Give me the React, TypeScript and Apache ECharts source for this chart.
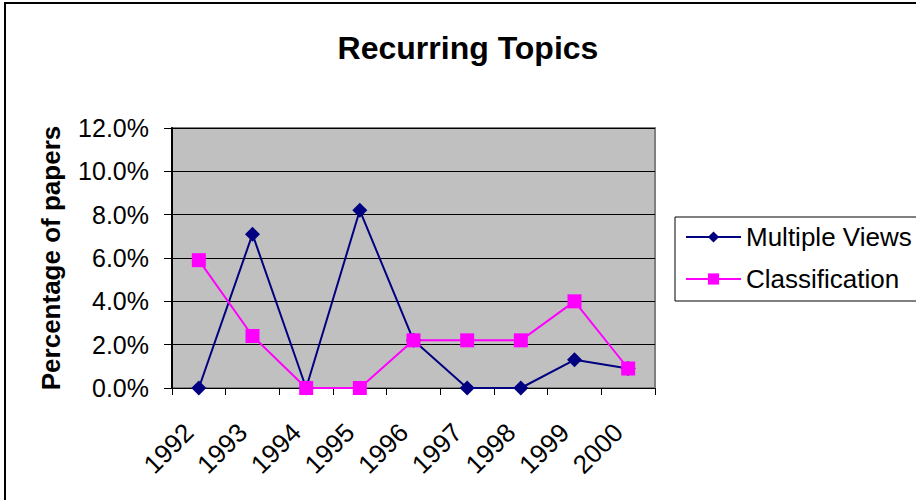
import React, { useEffect, useRef } from "react";
import * as echarts from "echarts";

const years = ["1992", "1993", "1994", "1995", "1996", "1997", "1998", "1999", "2000"];
const multipleViews = [0, 7.1, 0, 8.2, 2.2, 0, 0, 1.3, 0.9];
const classification = [5.9, 2.4, 0, 0, 2.2, 2.2, 2.2, 4.0, 0.9];
const seriesNames = ["Multiple Views", "Classification"];
const titleText = "Recurring Topics";
const yAxisTitle = "Percentage of papers";

const FONT = "'Liberation Sans', Arial, sans-serif";

export default function App() {
  const ref = useRef<HTMLDivElement>(null);
  useEffect(() => {
    document.body.style.margin = "0";
    const chart = echarts.init(ref.current!, undefined, { renderer: "svg" });
    chart.setOption({
      animation: false,
      backgroundColor: "#ffffff",
      title: {
        text: titleText,
        left: 463,
        textAlign: "center",
        top: 27,
        textStyle: { fontFamily: FONT, fontSize: 32, fontWeight: "bold", color: "#000" },
      },
      graphic: [
        {
          type: "rect",
          shape: { x: 5, y: 3, width: 1000, height: 600 },
          style: { fill: "none", stroke: "#000", lineWidth: 2 },
          silent: true,
          z: 100,
        },
      ],
      legend: {
        orient: "vertical",
        left: 675,
        top: 217,
        padding: [6, 60, 8, 10],
        borderColor: "#000",
        borderWidth: 1,
        itemWidth: 55,
        itemHeight: 14,
        itemGap: 14,
        textStyle: { fontFamily: FONT, fontSize: 26, color: "#000", lineHeight: 28 },
        data: seriesNames,
      },
      grid: {
        left: 172,
        right: 261,
        top: 128,
        bottom: 112,
        show: true,
        backgroundColor: "#c0c0c0",
        borderColor: "#808080",
        borderWidth: 2,
      },
      xAxis: {
        type: "category",
        data: years,
        boundaryGap: true,
        axisLine: { show: true, lineStyle: { color: "#000", width: 1 } },
        axisTick: { show: true, interval: 0, length: 7, lineStyle: { color: "#000" } },
        axisLabel: {
          rotate: 45,
          interval: 0,
          margin: 30,
          fontFamily: FONT,
          fontSize: 26,
          color: "#000",
          padding: [0, 14, 0, 0],
        },
        splitLine: { show: false },
      },
      yAxis: {
        type: "value",
        min: 0,
        max: 12,
        interval: 2,
        name: yAxisTitle,
        nameLocation: "middle",
        nameGap: 108,
        nameTextStyle: { fontFamily: FONT, fontSize: 26, fontWeight: "bold", color: "#000" },
        axisLine: { show: true, lineStyle: { color: "#000", width: 2 } },
        axisTick: { show: true, length: 8, lineStyle: { color: "#000" } },
        axisLabel: {
          margin: 23,
          fontFamily: FONT,
          fontSize: 25,
          color: "#000",
          formatter: (v: number) => v.toFixed(1) + "%",
        },
        splitLine: { show: true, lineStyle: { color: "#000", width: 1 } },
      },
      series: [
        {
          name: seriesNames[0],
          type: "line",
          data: multipleViews,
          symbol: "diamond",
          symbolSize: 15,
          lineStyle: { color: "#000080", width: 2 },
          itemStyle: { color: "#000080" },
        },
        {
          name: seriesNames[1],
          type: "line",
          data: classification,
          symbol: "rect",
          symbolSize: 14,
          lineStyle: { color: "#ff00ff", width: 2 },
          itemStyle: { color: "#ff00ff" },
        },
      ],
    });
    return () => chart.dispose();
  }, []);
  return (
    <div
      ref={ref}
      style={{ position: "absolute", left: 0, top: 0, width: 916, height: 500 }}
    />
  );
}
